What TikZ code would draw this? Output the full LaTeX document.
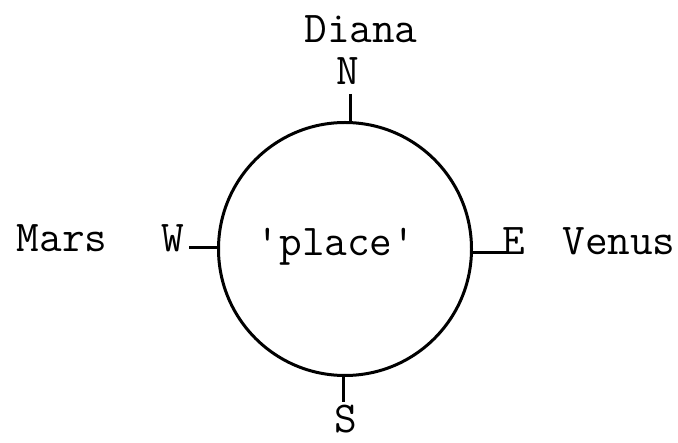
\documentclass[tikz,border=0pt]{standalone}
\begin{document}
\begin{tikzpicture}[x=1pt,y=-1pt,
  lbl/.style={font=\ttfamily\fontsize{44}{46}\selectfont, inner sep=0pt, anchor=base},
  tick/.style={line width=3pt},
  ring/.style={draw, circle, line width=3pt, minimum size=253pt, inner sep=0pt}]
\useasboundingbox (0,0) rectangle (678,443);
\node[ring] (c) at (345,249) {};
\coordinate (tn) at (350,94);
\coordinate (ts) at (343,402);
\coordinate (tw) at (189,248);
\coordinate (te) at (508,253);
\draw[tick] (tn) -- (tn |- c.north);
\draw[tick] (ts) -- (ts |- c.south);
\draw[tick] (tw) -- (tw -| c.west);
\draw[tick] (te) -- (te -| c.east);
\node[lbl] (diana) at (361,43) {Diana};
\node[lbl] (n) at (348,85) {N};
\node[lbl] (mars) at (62,252) {Mars};
\node[lbl] (w) at (173,252) {W};
\node[lbl] (e) at (514,255) {E};
\node[lbl] (venus) at (619,255) {Venus};
\node[lbl] (place) at (336,256) {'place'};
\node[lbl] (s) at (346,433) {S};
\end{tikzpicture}
\end{document}
